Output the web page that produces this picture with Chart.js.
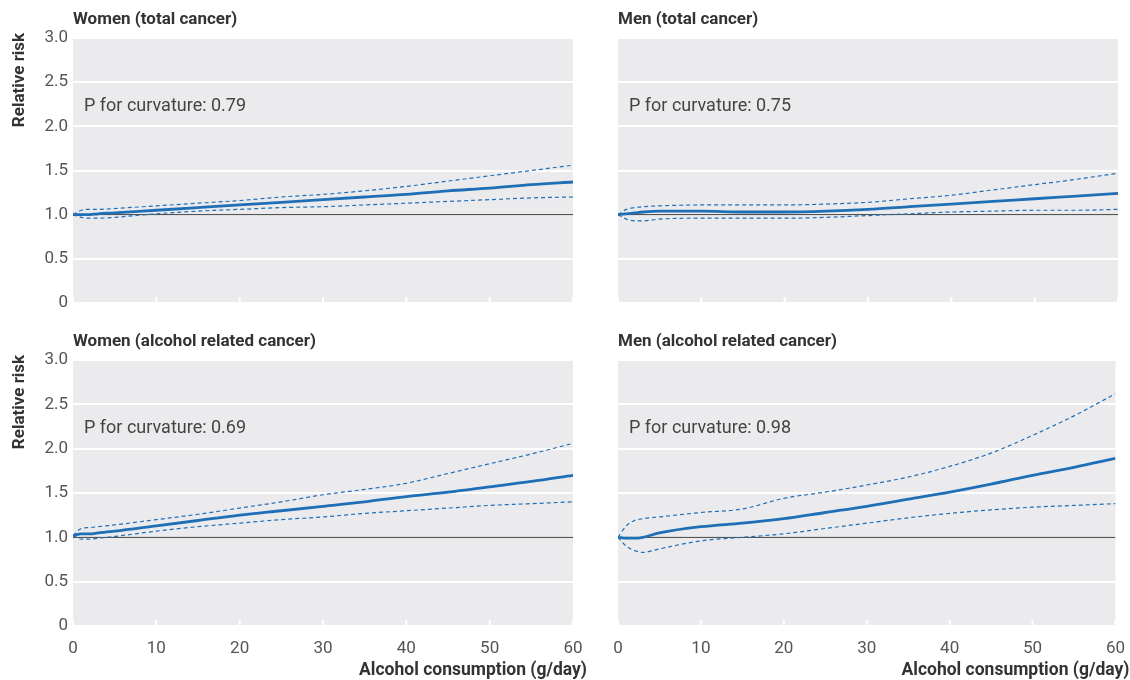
<!DOCTYPE html>
<html lang="en">
<head>
  <meta charset="UTF-8" />
  <title>Relative risk by alcohol consumption</title>
  <script src="https://cdn.jsdelivr.net/npm/chart.js"></script>
  <style>
    html, body { margin: 0; padding: 0; background: #fff; }
    body { width: 1130px; height: 680px; position: relative; overflow: hidden; }
    .panel { position: absolute; }
  </style>
</head>
<body>
  <div class="panel" style="left:0;top:0;width:600px;height:320px"><canvas id="womenTotal"></canvas></div>
  <div class="panel" style="left:600px;top:0;width:530px;height:320px"><canvas id="menTotal"></canvas></div>
  <div class="panel" style="left:0;top:322px;width:600px;height:358px"><canvas id="womenAlc"></canvas></div>
  <div class="panel" style="left:600px;top:322px;width:530px;height:358px"><canvas id="menAlc"></canvas></div>

  <script>
    // alcohol consumption (g/day) at which the curves were read
    const xs = [0, 1, 2, 3, 5, 10, 15, 20, 25, 30, 35, 40, 45, 50, 55, 60];

    const xTickValues = [0, 10, 20, 30, 40, 50, 60];
    const yTickValues = [0, 0.5, 1, 1.5, 2, 2.5, 3];
    const refX = [0, 60];
    const refY = [1, 1];

    // Women (total cancer)
    const womenTotalRR    = [1.00, 1.00, 1.00, 1.01, 1.02, 1.05, 1.08, 1.11, 1.14, 1.17, 1.20, 1.23, 1.27, 1.30, 1.34, 1.37];
    const womenTotalUpper = [1.00, 1.05, 1.06, 1.06, 1.07, 1.10, 1.13, 1.16, 1.20, 1.23, 1.27, 1.32, 1.38, 1.44, 1.50, 1.56];
    const womenTotalLower = [1.00, 0.97, 0.96, 0.96, 0.97, 1.01, 1.04, 1.06, 1.08, 1.09, 1.11, 1.13, 1.15, 1.17, 1.19, 1.20];

    // Men (total cancer)
    const menTotalRR    = [1.00, 1.01, 1.02, 1.03, 1.04, 1.04, 1.03, 1.03, 1.04, 1.06, 1.09, 1.12, 1.15, 1.18, 1.21, 1.24];
    const menTotalUpper = [1.00, 1.06, 1.08, 1.09, 1.10, 1.11, 1.11, 1.11, 1.12, 1.14, 1.18, 1.22, 1.28, 1.34, 1.40, 1.47];
    const menTotalLower = [1.00, 0.95, 0.93, 0.93, 0.95, 0.96, 0.96, 0.96, 0.97, 0.99, 1.01, 1.03, 1.04, 1.05, 1.05, 1.06];

    // Women (alcohol related cancer)
    const womenAlcRR    = [1.02, 1.04, 1.04, 1.05, 1.07, 1.13, 1.19, 1.25, 1.30, 1.35, 1.40, 1.46, 1.51, 1.57, 1.63, 1.70];
    const womenAlcUpper = [1.02, 1.10, 1.11, 1.12, 1.14, 1.20, 1.26, 1.33, 1.40, 1.48, 1.54, 1.61, 1.72, 1.83, 1.94, 2.06];
    const womenAlcLower = [1.02, 0.98, 0.98, 0.99, 1.01, 1.07, 1.12, 1.16, 1.20, 1.23, 1.27, 1.30, 1.33, 1.36, 1.38, 1.40];

    // Men (alcohol related cancer)
    const menAlcRR    = [1.00, 0.99, 0.99, 1.00, 1.05, 1.12, 1.16, 1.21, 1.28, 1.35, 1.43, 1.51, 1.60, 1.70, 1.79, 1.89];
    const menAlcUpper = [1.00, 1.13, 1.19, 1.21, 1.23, 1.28, 1.32, 1.44, 1.51, 1.59, 1.68, 1.80, 1.95, 2.15, 2.37, 2.62];
    const menAlcLower = [1.00, 0.90, 0.85, 0.83, 0.87, 0.96, 1.00, 1.04, 1.10, 1.16, 1.22, 1.27, 1.31, 1.34, 1.36, 1.38];

    const BLUE = '#1f6fb7';
    const TEXT = '#333333';
    const TICK = '#555555';
    const FONT = 'Roboto, "Noto Sans", sans-serif';

    Chart.defaults.font.family = FONT;

    const pts = (x, y) => x.map((v, i) => ({ x: v, y: y[i] }));

    // plot background, tick marks, titles and notes
    const decor = {
      id: 'decor',
      beforeDraw(chart) {
        const { ctx, chartArea: a } = chart;
        ctx.save();
        ctx.fillStyle = '#ebebee';
        ctx.fillRect(a.left, a.top, a.right - a.left, a.bottom - a.top);
        ctx.restore();
      },
      afterDatasetsDraw(chart, args, o) {
        const { ctx, chartArea: a, scales } = chart;
        ctx.save();
        // small white ticks inside the plot bottom
        ctx.strokeStyle = '#ffffff';
        ctx.lineWidth = 2;
        xTickValues.forEach(v => {
          const px = scales.x.getPixelForValue(v);
          ctx.beginPath();
          ctx.moveTo(px, a.bottom);
          ctx.lineTo(px, a.bottom - 6);
          ctx.stroke();
        });
        // panel title
        ctx.fillStyle = TEXT;
        ctx.textBaseline = 'middle';
        ctx.textAlign = 'left';
        ctx.font = 'bold 17px ' + FONT;
        ctx.fillText(o.title, a.left, a.top - 18);
        // P for curvature
        ctx.fillStyle = '#444444';
        ctx.font = '18px ' + FONT;
        ctx.fillText(o.note, a.left + 11, a.top + 68);
        // y axis title
        if (o.yTitle) {
          ctx.save();
          ctx.fillStyle = TEXT;
          ctx.font = 'bold 17px ' + FONT;
          ctx.translate(20, a.top + 42);
          ctx.rotate(-Math.PI / 2);
          ctx.textAlign = 'center';
          ctx.fillText('Relative risk', 0, 0);
          ctx.restore();
        }
        // x axis title
        if (o.xTitle) {
          ctx.fillStyle = TEXT;
          ctx.font = 'bold 17.5px ' + FONT;
          ctx.textAlign = 'right';
          ctx.fillText('Alcohol consumption (g/day)', a.right + 14, a.bottom + 45);
        }
        ctx.restore();
      }
    };

    function makeChart(id, cfg) {
      return new Chart(document.getElementById(id), {
        type: 'line',
        data: {
          datasets: [
            { data: pts(xs, cfg.rr), borderColor: BLUE, borderWidth: 2.8, pointRadius: 0, cubicInterpolationMode: 'monotone' },
            { data: pts(xs, cfg.upper), borderColor: BLUE, borderWidth: 1.2, borderDash: [4, 3], pointRadius: 0, cubicInterpolationMode: 'monotone' },
            { data: pts(xs, cfg.lower), borderColor: BLUE, borderWidth: 1.2, borderDash: [4, 3], pointRadius: 0, cubicInterpolationMode: 'monotone' },
            { data: pts(refX, refY), borderColor: '#333333', borderWidth: 1, pointRadius: 0 }
          ]
        },
        options: {
          responsive: true,
          maintainAspectRatio: false,
          animation: false,
          events: [],
          layout: { padding: cfg.padding },
          plugins: {
            legend: { display: false },
            tooltip: { enabled: false },
            decor: { title: cfg.title, note: cfg.note, yTitle: cfg.left, xTitle: cfg.bottom }
          },
          scales: {
            x: {
              type: 'linear',
              min: 0,
              max: 60,
              afterBuildTicks: s => { s.ticks = xTickValues.map(v => ({ value: v })); },
              afterFit: s => { s.height = cfg.bottom ? 54 : 0; },
              grid: { display: false },
              border: { display: false },
              ticks: { display: cfg.bottom, color: TICK, padding: 5, font: { size: 17 }, maxRotation: 0 }
            },
            y: {
              min: 0,
              max: 3,
              afterBuildTicks: s => { s.ticks = yTickValues.map(v => ({ value: v })); },
              afterFit: s => { s.width = cfg.left ? 73 : 0; },
              grid: { color: '#ffffff', lineWidth: 2, drawTicks: false },
              border: { display: false },
              ticks: {
                display: cfg.left,
                color: TICK,
                padding: 5,
                font: { size: 17 },
                callback: v => v === 0 ? '0' : v.toFixed(1)
              }
            }
          }
        },
        plugins: [decor]
      });
    }

    makeChart('womenTotal', {
      title: 'Women (total cancer)', note: 'P for curvature: 0.79',
      rr: womenTotalRR, upper: womenTotalUpper, lower: womenTotalLower,
      left: true, bottom: false, padding: { top: 38, right: 27, bottom: 17, left: 0 }
    });
    makeChart('menTotal', {
      title: 'Men (total cancer)', note: 'P for curvature: 0.75',
      rr: menTotalRR, upper: menTotalUpper, lower: menTotalLower,
      left: false, bottom: false, padding: { top: 38, right: 12, bottom: 17, left: 18 }
    });
    makeChart('womenAlc', {
      title: 'Women (alcohol related cancer)', note: 'P for curvature: 0.69',
      rr: womenAlcRR, upper: womenAlcUpper, lower: womenAlcLower,
      left: true, bottom: true, padding: { top: 38, right: 27, bottom: 0, left: 0 }
    });
    makeChart('menAlc', {
      title: 'Men (alcohol related cancer)', note: 'P for curvature: 0.98',
      rr: menAlcRR, upper: menAlcUpper, lower: menAlcLower,
      left: false, bottom: true, padding: { top: 38, right: 12, bottom: 0, left: 18 }
    });
  </script>
</body>
</html>
